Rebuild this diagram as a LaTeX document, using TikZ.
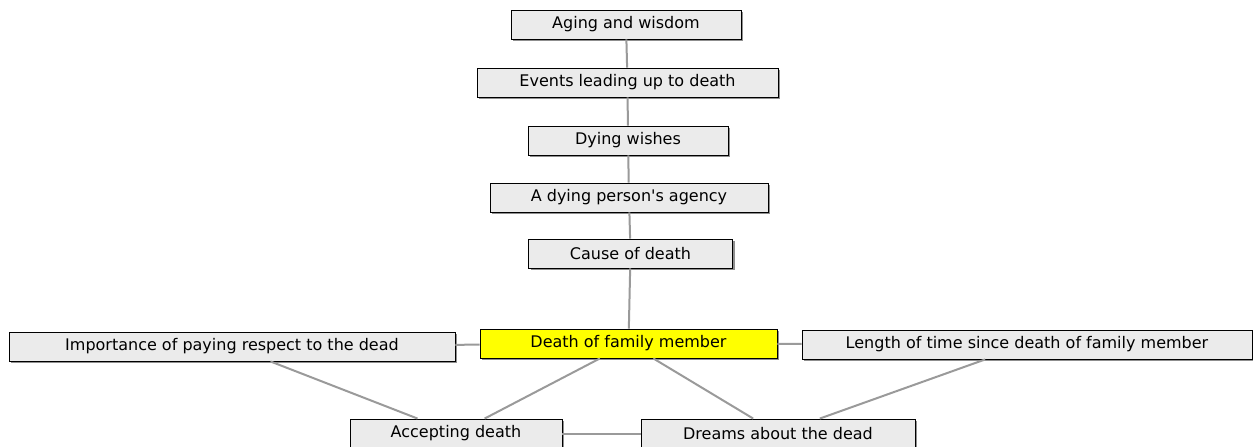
\documentclass[tikz,border=0pt]{standalone}
\usepackage{fontspec}
\setmainfont{DejaVu Sans}
\usetikzlibrary{shadows}
\definecolor{boxgray}{HTML}{EBEBEB}
\definecolor{linkgray}{HTML}{9A9A9A}
\definecolor{hiyellow}{HTML}{FFFF00}
\tikzset{
  topic/.style={draw=black, line width=0.9pt, fill=boxgray, minimum height=29pt,
    inner sep=0pt, font=\fontsize{16}{18}\selectfont,
    drop shadow={shadow xshift=2pt, shadow yshift=-2pt, fill=black!55, opacity=0.8}},
  core/.style={topic, fill=hiyellow},
  link/.style={draw=linkgray, line width=2pt}
}
\begin{document}
\begin{tikzpicture}[x=1pt, y=-1pt]
	\useasboundingbox (0, 0) rectangle (1253, 447);

	%%%%% chain above %%%%%
	\node[topic, minimum width=230pt] (aging)   at (626, 24.5)  {Aging and wisdom};
	\node[topic, minimum width=301pt] (events)  at (627.5, 82.5) {Events leading up to death};
	\node[topic, minimum width=200pt] (wishes)  at (628, 140.5) {Dying wishes};
	\node[topic, minimum width=278pt] (agency)  at (629, 197.5) {A dying person\textquotesingle s agency};
	\node[topic, minimum width=204pt] (cause)   at (630.5, 253.5) {Cause of death};

	%%%%% middle row %%%%%
	\node[core,  minimum width=297pt] (death)   at (628.5, 343.5) {Death of family member};
	\node[topic, minimum width=446pt] (respect) at (232, 346.5) {Importance of paying respect to the dead};
	\node[topic, minimum width=450pt] (length)  at (1027, 344.5) {Length of time since death of family member};

	%%%%% bottom row %%%%%
	\node[topic, minimum width=212pt] (accept)  at (456, 433.5) {Accepting death};
	\node[topic, minimum width=274pt] (dreams)  at (778, 433.5) {Dreams about the dead};

	%%%%% links %%%%%
	\draw[link] (aging) -- (events);
	\draw[link] (events) -- (wishes);
	\draw[link] (wishes) -- (agency);
	\draw[link] (agency) -- (cause);
	\draw[link] (cause) -- (death);
	\draw[link] (respect) -- (death);
	\draw[link] (death) -- (length);
	\draw[link] (respect) -- (accept);
	\draw[link] (death) -- (accept);
	\draw[link] (death) -- (dreams);
	\draw[link] (length) -- (dreams);
	\draw[link] (accept) -- (dreams);
\end{tikzpicture}
\end{document}
